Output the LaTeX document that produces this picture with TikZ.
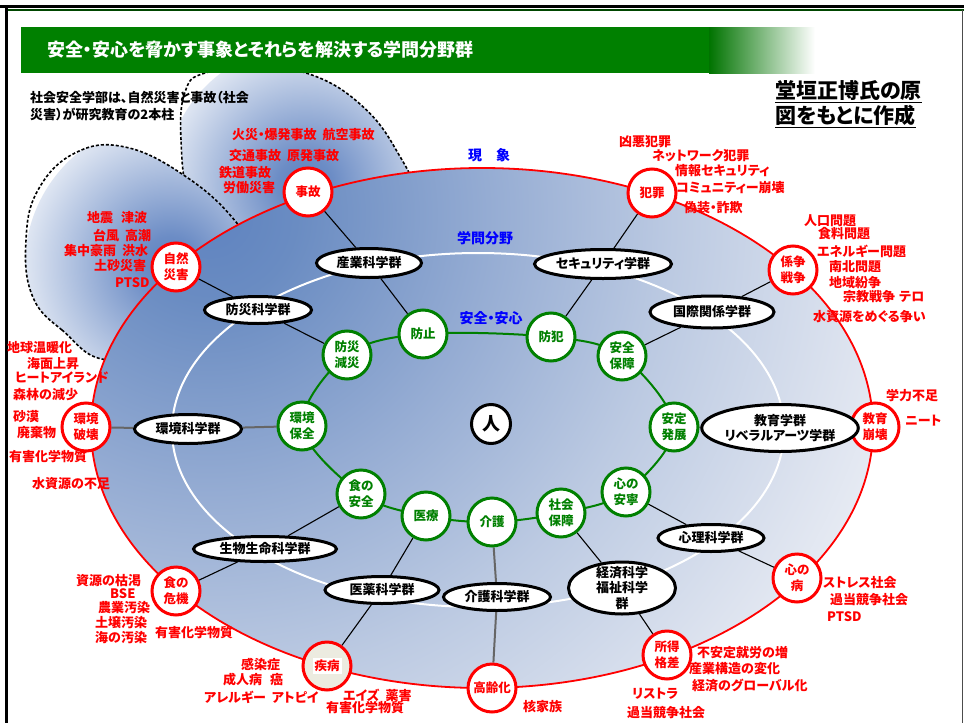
\documentclass[tikz,border=0pt]{standalone}
\usepackage{fontspec}
\setmainfont{Noto Sans CJK JP}[RawFeature=+palt]
\usepackage{tikz}
\usetikzlibrary{shapes.geometric,backgrounds,positioning}
\definecolor{kgreen}{HTML}{008000}
\definecolor{kred}{HTML}{FF0000}
\definecolor{kblue}{HTML}{0000FF}
\definecolor{haze}{HTML}{5C80BF}
\definecolor{beige}{HTML}{ECEBE0}
\definecolor{sh1}{HTML}{5F83C0}
\definecolor{sh2}{HTML}{6A8CC2}
\definecolor{sh3}{HTML}{95ACD3}
\definecolor{sh4}{HTML}{BCCAE2}
\definecolor{sh5}{HTML}{DDE3EF}
\definecolor{sh6}{HTML}{F3F5F9}
\pgfdeclareradialshading{phenom}{\pgfpoint{0bp}{0bp}}{color(0bp)=(sh1); color(2.7bp)=(sh2); color(8.7bp)=(sh3); color(14.5bp)=(sh4); color(20.4bp)=(sh5); color(24.6bp)=(sh6); color(29.5bp)=(white); color(50bp)=(white)}
\pgfdeclareradialshading{glow}{\pgfpoint{0bp}{0bp}}{color(0bp)=(haze); color(5bp)=(haze!90!white); color(15bp)=(haze!55!white); color(25bp)=(haze!20!white); color(34bp)=(white); color(50bp)=(white)}

\begin{document}
\begin{tikzpicture}[x=1pt,y=-1pt,
  threat/.style={circle,draw=kred,line width=3pt,fill=white,minimum size=48pt,inner sep=0pt,
    text=kred,align=center,font=\bfseries\fontsize{12.5}{16}\selectfont},
  guard/.style={threat,draw=kgreen,text=kgreen},
  field/.style={ellipse,draw,line width=3pt,fill=white,inner sep=0pt,align=center,
    font=\bfseries\fontsize{13}{15.5}\selectfont},
  issue/.style={anchor=west,inner sep=0pt,text=kred,font=\bfseries\fontsize{13}{15}\selectfont},
  tier/.style={inner sep=0pt,text=kblue,font=\bfseries\fontsize{14}{16}\selectfont},
  link/.style={line width=1.1pt},
  heavylink/.style={line width=2pt,draw=black!60},
  cloud/.style={fill=white,line width=1.6pt,dash pattern=on 3pt off 2pt}]
\useasboundingbox (0,0) rectangle (964,723);

\begin{pgfonlayer}{background}
  \fill[white] (0,0) rectangle (964,723);
  % the two clouds: accident and natural disaster
  \draw[cloud,path picture={\shade[shading=glow] (305,185) circle [radius=140];}]
    plot[smooth cycle,tension=0.7] coordinates {(190,200) (181,140) (185,92) (205,73) (260,68)
      (312,75) (360,104) (395,148) (415,200) (380,232) (280,236) (220,232)};
  \draw[cloud,path picture={\shade[shading=glow] (170,265) circle [radius=145];}]
    plot[smooth cycle,tension=0.7] coordinates {(112,360) (62,330) (32,295) (26,240) (38,190)
      (75,153) (125,147) (185,176) (236,222) (270,280) (200,330)};
  % phenomena
  \begin{scope}
    \clip (482,428) ellipse [x radius=391,y radius=260];
    \shade[shading=phenom] (210,215) circle [radius=800];
  \end{scope}
  \draw[kred,line width=1.8pt] (482,428) ellipse [x radius=391,y radius=260];
  % fields of study
  \draw[white,line width=2pt] (478,430) ellipse [x radius=306,y radius=177];
\end{pgfonlayer}

% frame and title
\draw[line width=3pt] (0,6.5) -- (964,6.5);
\draw[kgreen!55!black,line width=2pt] (8,9.5) -- (964,9.5);
\draw[line width=3pt] (6.5,5) -- (6.5,723);
\draw[black!70,line width=1.2pt] (962.5,10) -- (962.5,723);
\fill[kgreen] (21,27) rectangle (710,73);
\shade[left color=kgreen!90!black,right color=white] (709,27) rectangle (815,73);
\node[anchor=west,inner sep=0pt,text=white,font=\bfseries\fontsize{18}{20}\selectfont] (title)
  at (47,50) {安全・安心を脅かす事象とそれらを解決する学問分野群};
\node[anchor=west,inner sep=0pt,align=left,font=\bfseries\fontsize{13}{17}\selectfont] (pillar)
  at (30,106.5) {社会安全学部は、自然災害と事故（社会\\災害）が研究教育の2本柱};
\node[anchor=west,inner sep=0pt,align=left,font=\bfseries\fontsize{21}{25}\selectfont] (source)
  at (775,104.5) {\underline{堂垣正博氏の原}\\\underline{図をもとに作成}};

% ring labels
\node[tier] (genshou) at (489,155) {現\hspace{14pt}象};
\node[tier] (gakumon) at (485,238) {学問分野};
\node[tier] (anshin) at (491,318) {安全・安心};

% issues around each threat
\node[issue] (j1) at (232,135) {火災・爆発事故\hspace{6pt}航空事故};
\node[issue] (j2) at (229,156) {交通事故\hspace{6pt}原発事故};
\node[issue] (j3) at (219,173) {鉄道事故};
\node[issue] (j4) at (223,188) {労働災害};
\node[issue] (s1) at (87,218) {地震\hspace{8pt}津波};
\node[issue] (s2) at (93,236) {台風\hspace{6pt}高潮};
\node[issue] (s3) at (64,251) {集中豪雨\hspace{6pt}洪水};
\node[issue] (s4) at (94,266) {土砂災害};
\node[issue] (s5) at (115,283) {PTSD};
\node[issue] (h1) at (619,142) {凶悪犯罪};
\node[issue] (h2) at (652,156) {ネットワーク犯罪};
\node[issue] (h3) at (675,171) {情報セキュリティ};
\node[issue] (h4) at (676,188) {コミュニティー崩壊};
\node[issue] (h5) at (684,208) {偽装・詐欺};
\node[issue] (w1) at (804,221) {人口問題};
\node[issue] (w2) at (818,234) {食料問題};
\node[issue] (w3) at (817,251) {エネルギー問題};
\node[issue] (w4) at (829,267) {南北問題};
\node[issue] (w5) at (829,283) {地域紛争};
\node[issue] (w6) at (843,297) {宗教戦争\hspace{4pt}テロ};
\node[issue] (w7) at (813,317) {水資源をめぐる争い};
\node[issue] (e1) at (886,396) {学力不足};
\node[issue] (e2) at (905,421) {ニート};
\node[issue] (k1) at (823,583) {ストレス社会};
\node[issue] (k2) at (830,600) {過当競争社会};
\node[issue] (k3) at (827,617) {PTSD};
\node[issue] (i1) at (697,653) {不安定就労の増};
\node[issue] (i2) at (689,669) {産業構造の変化};
\node[issue] (i3) at (692,685) {経済のグローバル化};
\node[issue] (i4) at (632,694) {リストラ};
\node[issue] (i5) at (627,713) {過当競争社会};
\node[issue] (a1) at (523,707) {核家族};
\node[issue] (d1) at (241,664) {感染症};
\node[issue] (d2) at (223,680) {成人病\hspace{8pt}癌};
\node[issue] (d3) at (204,697) {アレルギー\hspace{6pt}アトピイ};
\node[issue] (d4) at (343,695) {エイズ\hspace{6pt}薬害};
\node[issue] (d5) at (326,708) {有害化学物質};
\node[issue] (f1) at (76,581) {資源の枯渇};
\node[issue] (f2) at (110,594) {BSE};
\node[issue] (f3) at (98,608) {農業汚染};
\node[issue] (f4) at (95,623) {土壌汚染};
\node[issue] (f5) at (95,638) {海の汚染};
\node[issue] (f6) at (155,633) {有害化学物質};
\node[issue] (v1) at (7,348) {地球温暖化};
\node[issue] (v2) at (27,364) {海面上昇};
\node[issue] (v3) at (15,378) {ヒートアイランド};
\node[issue] (v4) at (13,395) {森林の減少};
\node[issue] (v5) at (13,417) {砂漠};
\node[issue] (v6) at (17,433) {廃棄物};
\node[issue] (v7) at (9,457) {有害化学物質};
\node[issue] (v8) at (32,484) {水資源の不足};

% threats (phenomena)
\node[threat] (jiko)    at (308,192) {事故};
\node[threat] (shizen)  at (176,267) {自然\\災害};
\node[threat] (hanzai)  at (652,193) {犯罪};
\node[threat] (sensou)  at (793,270) {係争\\戦争};
\node[threat] (kyouiku) at (875,427) {教育\\崩壊};
\node[threat] (kokoro)  at (797,578) {心の\\病};
\node[threat] (shotoku) at (667,655) {所得\\格差};
\node[threat] (koureika) at (492,688) {高齢化};
\node[threat,fill=beige] (shippei) at (327,666) {\setlength{\fboxsep}{2pt}\colorbox{white}{疾病}};
\node[threat] (shoku)   at (176,591) {食の\\危機};
\node[threat] (kankyou) at (86,427) {環境\\破壊};

% fields of study
\node[field,minimum width=105pt,minimum height=29pt] (sangyou) at (369,263) {産業科学群};
\node[field,minimum width=137pt,minimum height=29pt] (security) at (603,264) {セキュリティ学群};
\node[field,minimum width=107pt,minimum height=27pt] (bousaigaku) at (258,310) {防災科学群};
\node[field,minimum width=124pt,minimum height=32pt] (kokusai) at (712,312) {国際関係学群};
\node[field,minimum width=107pt,minimum height=29pt] (kankyougaku) at (188,429) {環境科学群};
\node[field,minimum width=127pt,minimum height=47pt] (kyouikugaku) at (780,428) {教育学群\\リベラルアーツ学群};
\node[field,minimum width=106pt,minimum height=27pt] (shinri) at (711,538) {心理科学群};
\node[field,minimum width=107pt,minimum height=52pt,inner ysep=-4pt] (keizai) at (622,588) {経済科学\\福祉科学\\群};
\node[field,minimum width=107pt,minimum height=27pt] (kaigogaku) at (497,597) {介護科学群};
\node[field,minimum width=114pt,minimum height=27pt] (iyaku) at (382,590) {医薬科学群};
\node[field,minimum width=143pt,minimum height=25pt] (seibutsu) at (265,549) {生物生命科学群};

% safety and security
\node[guard] (boushi)   at (423,334) {防止};
\node[guard] (bouhan)   at (551,337) {防犯};
\node[guard] (anpo)     at (622,356) {安全\\保障};
\node[guard] (antei)    at (674,427) {安定\\発展};
\node[guard] (anei)     at (626,492) {心の\\安寧};
\node[guard] (shakai)   at (561,513) {社会\\保障};
\node[guard] (kaigo)    at (492,522) {介護};
\node[guard] (iryou)    at (426,516) {医療};
\node[guard] (shokuan)  at (361,494) {食の\\安全};
\node[guard] (hozen)    at (302,426) {環境\\保全};
\node[guard] (gensai)   at (347,355) {防災\\減災};
\node[circle,draw,line width=3pt,fill=white,minimum size=39pt,inner sep=0pt,
  font=\bfseries\fontsize{18}{20}\selectfont] (hito) at (491,424) {人};

\begin{pgfonlayer}{background}
  \draw[kgreen,line width=2pt] plot[smooth cycle,tension=0.55] coordinates {(boushi.center)
    (bouhan.center) (anpo.center) (antei.center) (anei.center) (shakai.center) (kaigo.center)
    (iryou.center) (shokuan.center) (hozen.center) (gensai.center)};
  \draw[link] (jiko) -- (sangyou) (sangyou) -- (boushi);
  \draw[link] (shizen) -- (bousaigaku) (bousaigaku) -- (gensai);
  \draw[link] (hanzai) -- (security) (security) -- (bouhan);
  \draw[link] (sensou) -- (kokusai) (kokusai) -- (anpo);
  \draw[heavylink] (kankyou) -- (kankyougaku) (kankyougaku) -- (hozen);
  \draw[link] (kyouiku) -- (kyouikugaku) (kyouikugaku) -- (antei);
  \draw[link] (kokoro) -- (shinri) (shinri) -- (anei);
  \draw[link] (shotoku) -- (keizai) (keizai) -- (shakai);
  \draw[heavylink] (koureika) -- (kaigogaku) (kaigogaku) -- (kaigo);
  \draw[link] (shippei) -- (iyaku) (iyaku) -- (iryou);
  \draw[link] (shoku) -- (seibutsu) (seibutsu) -- (shokuan);
\end{pgfonlayer}
\end{tikzpicture}
\end{document}
